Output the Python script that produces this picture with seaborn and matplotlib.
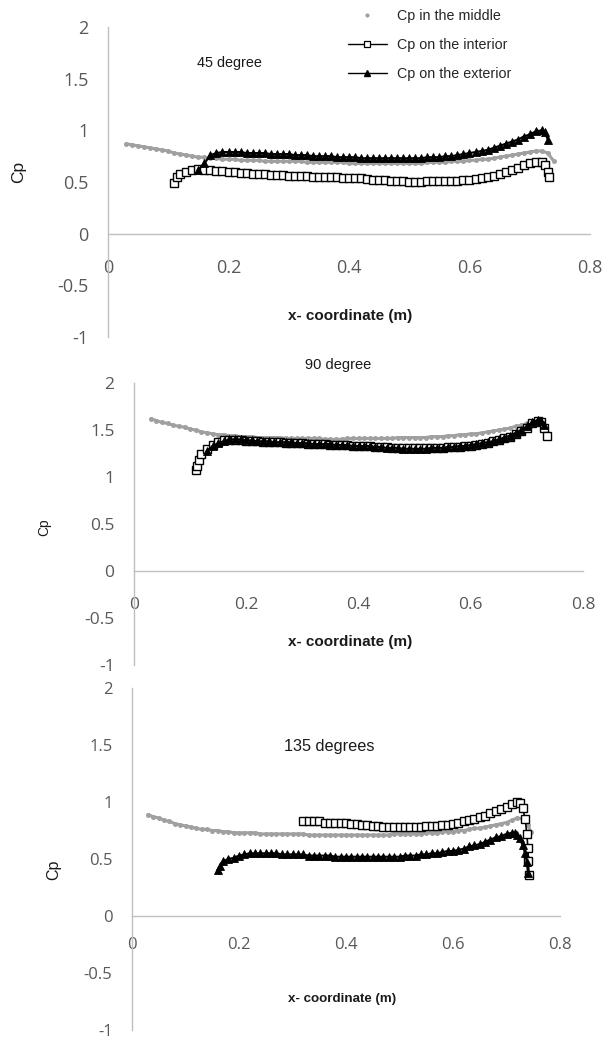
import numpy as np
import pandas as pd
import matplotlib
matplotlib.use("Agg")
import matplotlib.pyplot as plt
from matplotlib.lines import Line2D
import seaborn as sns

# ---------------- data ----------------
# Panel 1: 45 degree
p1_mid_x = [0.03,0.04,0.05,0.06,0.07,0.08,0.09,0.10,0.11,0.12,0.13,0.14,0.15,0.16,0.17,0.18,0.19,0.20,
            0.21,0.22,0.23,0.24,0.25,0.26,0.27,0.28,0.29,0.30,0.31,0.32,0.33,0.34,0.35,0.36,0.37,0.38,0.39,0.40,
            0.41,0.42,0.43,0.44,0.45,0.46,0.47,0.48,0.49,0.50,0.51,0.52,0.53,0.54,0.55,0.56,0.57,0.58,0.59,0.60,
            0.61,0.62,0.63,0.64,0.65,0.66,0.67,0.68,0.69,0.70,0.71,0.72,0.73,0.74]
p1_mid_y = [0.87,0.86,0.85,0.84,0.83,0.82,0.81,0.80,0.78,0.77,0.76,0.75,0.74,0.74,0.73,0.73,0.72,0.72,
            0.72,0.71,0.71,0.71,0.71,0.70,0.70,0.70,0.70,0.70,0.70,0.70,0.69,0.69,0.69,0.69,0.69,0.69,0.69,0.68,
            0.68,0.68,0.68,0.68,0.68,0.68,0.68,0.68,0.68,0.68,0.68,0.68,0.69,0.69,0.69,0.69,0.70,0.70,0.70,0.71,
            0.71,0.72,0.72,0.73,0.74,0.75,0.76,0.77,0.78,0.79,0.80,0.80,0.78,0.70]
p1_int_x = [0.110,0.115,0.12,0.13,0.14,0.15,0.16,0.17,0.18,0.19,0.20,0.21,0.22,0.23,0.24,0.25,0.26,0.27,0.28,0.29,0.30,
            0.31,0.32,0.33,0.34,0.35,0.36,0.37,0.38,0.39,0.40,0.41,0.42,0.43,0.44,0.45,0.46,0.47,0.48,0.49,0.50,
            0.51,0.52,0.53,0.54,0.55,0.56,0.57,0.58,0.59,0.60,0.61,0.62,0.63,0.64,0.65,0.66,0.67,0.68,0.69,0.70,
            0.71,0.72,0.725,0.73,0.732]
p1_int_y = [0.49,0.55,0.58,0.60,0.62,0.63,0.62,0.62,0.61,0.61,0.60,0.60,0.59,0.59,0.58,0.58,0.58,0.57,0.57,0.57,0.56,
            0.56,0.56,0.56,0.55,0.55,0.55,0.55,0.55,0.54,0.54,0.54,0.54,0.53,0.52,0.52,0.52,0.51,0.51,0.51,0.50,
            0.50,0.50,0.51,0.51,0.51,0.51,0.51,0.51,0.52,0.52,0.53,0.54,0.55,0.56,0.58,0.60,0.62,0.64,0.66,0.68,
            0.69,0.69,0.66,0.60,0.55]
p1_ext_x = [0.15,0.16,0.17,0.18,0.19,0.20,0.21,0.22,0.23,0.24,0.25,0.26,0.27,0.28,0.29,0.30,
            0.31,0.32,0.33,0.34,0.35,0.36,0.37,0.38,0.39,0.40,0.41,0.42,0.43,0.44,0.45,0.46,0.47,0.48,0.49,0.50,
            0.51,0.52,0.53,0.54,0.55,0.56,0.57,0.58,0.59,0.60,0.61,0.62,0.63,0.64,0.65,0.66,0.67,0.68,0.69,0.70,
            0.71,0.72,0.725,0.73]
p1_ext_y = [0.62,0.68,0.76,0.78,0.79,0.79,0.79,0.79,0.78,0.78,0.78,0.78,0.77,0.77,0.77,0.77,
            0.76,0.76,0.76,0.75,0.75,0.75,0.75,0.74,0.74,0.74,0.74,0.73,0.73,0.73,0.73,0.73,0.73,0.73,0.73,0.73,
            0.73,0.73,0.74,0.74,0.74,0.75,0.75,0.76,0.77,0.78,0.79,0.80,0.81,0.83,0.85,0.87,0.89,0.91,0.94,0.96,
            0.99,1.00,0.98,0.91]

# Panel 2: 90 degree
p2_mid_x = p1_mid_x
p2_mid_y = [1.62,1.60,1.58,1.57,1.55,1.54,1.53,1.51,1.50,1.48,1.47,1.46,1.45,1.45,1.44,1.44,1.43,1.43,
            1.43,1.42,1.42,1.42,1.42,1.42,1.41,1.41,1.41,1.41,1.41,1.41,1.41,1.40,1.40,1.40,1.40,1.41,1.41,1.41,
            1.41,1.41,1.41,1.41,1.41,1.41,1.42,1.42,1.42,1.42,1.42,1.42,1.43,1.43,1.43,1.44,1.44,1.45,1.45,1.46,
            1.46,1.47,1.48,1.49,1.50,1.51,1.52,1.54,1.55,1.57,1.59,1.60,1.55,1.45]
p2_int_x = [0.110,0.113,0.116,0.12,0.13,0.14,0.15,0.16,0.17,0.18,0.19,0.20,
            0.21,0.22,0.23,0.24,0.25,0.26,0.27,0.28,0.29,0.30,0.31,0.32,0.33,0.34,0.35,0.36,0.37,0.38,0.39,0.40,
            0.41,0.42,0.43,0.44,0.45,0.46,0.47,0.48,0.49,0.50,0.51,0.52,0.53,0.54,0.55,0.56,0.57,0.58,0.59,0.60,
            0.61,0.62,0.63,0.64,0.65,0.66,0.67,0.68,0.69,0.70,0.71,0.72,0.725,0.73,0.735]
p2_int_y = [1.07,1.12,1.18,1.24,1.30,1.34,1.37,1.39,1.39,1.39,1.39,1.38,
            1.38,1.38,1.37,1.37,1.37,1.37,1.36,1.36,1.36,1.36,1.35,1.35,1.35,1.35,1.34,1.34,1.34,1.34,1.33,1.33,
            1.33,1.33,1.32,1.32,1.32,1.31,1.31,1.31,1.31,1.31,1.31,1.31,1.31,1.31,1.31,1.32,1.32,1.32,1.33,1.33,
            1.34,1.35,1.36,1.38,1.39,1.41,1.43,1.46,1.49,1.52,1.57,1.60,1.58,1.52,1.44]
p2_ext_x = [0.13,0.14,0.15,0.16,0.17,0.18,0.19,0.20,
            0.21,0.22,0.23,0.24,0.25,0.26,0.27,0.28,0.29,0.30,0.31,0.32,0.33,0.34,0.35,0.36,0.37,0.38,0.39,0.40,
            0.41,0.42,0.43,0.44,0.45,0.46,0.47,0.48,0.49,0.50,0.51,0.52,0.53,0.54,0.55,0.56,0.57,0.58,0.59,0.60,
            0.61,0.62,0.63,0.64,0.65,0.66,0.67,0.68,0.69,0.70,0.71,0.72,0.725,0.73]
p2_ext_y = [1.28,1.33,1.36,1.38,1.40,1.40,1.40,1.39,
            1.39,1.38,1.38,1.38,1.37,1.37,1.37,1.37,1.36,1.36,1.36,1.35,1.35,1.35,1.35,1.34,1.34,1.34,1.33,1.33,
            1.33,1.33,1.32,1.32,1.31,1.31,1.31,1.30,1.30,1.30,1.30,1.30,1.31,1.31,1.31,1.32,1.32,1.33,1.33,1.34,
            1.35,1.36,1.37,1.38,1.40,1.42,1.44,1.47,1.50,1.54,1.58,1.61,1.60,1.55]

# Panel 3: 135 degrees
p3_mid_x = p1_mid_x + [0.745]
p3_mid_y = [0.89,0.87,0.86,0.84,0.83,0.81,0.80,0.79,0.78,0.77,0.76,0.76,0.75,0.75,0.74,0.74,0.73,0.73,
            0.73,0.73,0.73,0.72,0.72,0.72,0.72,0.72,0.72,0.72,0.72,0.72,0.71,0.71,0.71,0.71,0.71,0.71,0.71,0.71,
            0.71,0.71,0.71,0.71,0.71,0.71,0.71,0.71,0.72,0.72,0.72,0.72,0.72,0.72,0.73,0.73,0.73,0.74,0.74,0.74,
            0.75,0.75,0.76,0.77,0.77,0.78,0.79,0.80,0.81,0.82,0.84,0.86,0.85,0.80,0.74]
p3_int_x = [0.32,0.33,0.34,0.35,0.36,0.37,0.38,0.39,0.40,
            0.41,0.42,0.43,0.44,0.45,0.46,0.47,0.48,0.49,0.50,0.51,0.52,0.53,0.54,0.55,0.56,0.57,0.58,0.59,0.60,
            0.61,0.62,0.63,0.64,0.65,0.66,0.67,0.68,0.69,0.70,0.71,0.72,0.725,0.73,0.735,0.738,0.740,0.741,0.742]
p3_int_y = [0.83,0.83,0.83,0.83,0.82,0.82,0.82,0.82,0.82,
            0.81,0.81,0.80,0.80,0.79,0.79,0.78,0.78,0.78,0.78,0.78,0.78,0.78,0.78,0.79,0.79,0.79,0.80,0.80,0.81,
            0.82,0.83,0.84,0.85,0.87,0.88,0.90,0.92,0.94,0.96,0.98,1.00,0.99,0.95,0.85,0.72,0.60,0.48,0.36]
p3_ext_x = [0.16,0.165,0.17,0.18,0.19,0.20,
            0.21,0.22,0.23,0.24,0.25,0.26,0.27,0.28,0.29,0.30,0.31,0.32,0.33,0.34,0.35,0.36,0.37,0.38,0.39,0.40,
            0.41,0.42,0.43,0.44,0.45,0.46,0.47,0.48,0.49,0.50,0.51,0.52,0.53,0.54,0.55,0.56,0.57,0.58,0.59,0.60,
            0.61,0.62,0.63,0.64,0.65,0.66,0.67,0.68,0.69,0.70,0.71,0.715,0.72,0.725,0.73,0.735,0.738,0.74]
p3_ext_y = [0.40,0.44,0.48,0.50,0.51,0.53,
            0.54,0.55,0.55,0.55,0.55,0.55,0.55,0.54,0.54,0.54,0.54,0.54,0.53,0.53,0.53,0.53,0.53,0.52,0.52,0.52,
            0.52,0.52,0.52,0.52,0.52,0.52,0.52,0.52,0.52,0.52,0.53,0.53,0.53,0.54,0.54,0.55,0.55,0.56,0.57,0.57,
            0.58,0.59,0.61,0.62,0.63,0.65,0.67,0.69,0.70,0.72,0.73,0.73,0.71,0.68,0.62,0.55,0.47,0.38]

x_ticks = [0, 0.2, 0.4, 0.6, 0.8]
x_tick_labels = ["0", "0.2", "0.4", "0.6", "0.8"]
y_ticks = [-1, -0.5, 0, 0.5, 1, 1.5, 2]
y_tick_labels = ["-1", "-0.5", "0", "0.5", "1", "1.5", "2"]
series_labels = ["Cp in the middle", "Cp on the interior", "Cp on the exterior"]
titles = ["45 degree", "90 degree", "135 degrees"]
xlabel_text = "x- coordinate (m)"
ylabel_text = "Cp"

# ---------------- style ----------------
sns.set_theme(style="white")
plt.rcParams["font.family"] = ["Liberation Sans", "DejaVu Sans"]

W, H = 605, 1040
fig = plt.figure(figsize=(W / 100, H / 100), dpi=100)

def fx(px):
    return px / W

def fy(py):
    return 1 - py / H

# pixel boxes: left, right, top(y=2), bottom(y=-1)
boxes = [(108, 590, 27, 337), (134, 583, 383, 665), (132, 560, 688, 1030)]
panels = [
    (p1_mid_x, p1_mid_y, p1_int_x, p1_int_y, p1_ext_x, p1_ext_y),
    (p2_mid_x, p2_mid_y, p2_int_x, p2_int_y, p2_ext_x, p2_ext_y),
    (p3_mid_x, p3_mid_y, p3_int_x, p3_int_y, p3_ext_x, p3_ext_y),
]
tick_fs = [13, 12.5, 12]
xpad = [18, 19, 15]
title_pos = [(229, 63, 10.4), (338, 365, 10.5), (329, 746, 11.7)]
xlabel_pos = [(350, 316, 11), (350, 642, 11), (342, 999, 9.6)]
ylabel_pos = [(19, 172, 12.5), (44, 527, 10), (54, 870, 11.5)]

gray_line = "#bfbfbf"
tick_color = "#595959"
mid_color = "#a0a0a0"

for i, (box, data) in enumerate(zip(boxes, panels)):
    l, r, t, b = box
    ax = fig.add_axes([fx(l), fy(b), fx(r) - fx(l), fy(t) - fy(b)])
    mx, my, ix, iy, ex, ey = data
    df_m = pd.DataFrame({"x": mx, "y": my})
    df_i = pd.DataFrame({"x": ix, "y": iy})
    df_e = pd.DataFrame({"x": ex, "y": ey})

    sns.lineplot(data=df_m, x="x", y="y", ax=ax, sort=False, estimator=None,
                 color=mid_color, linewidth=2.2, marker="o", markersize=3.6,
                 markeredgewidth=0, legend=False, zorder=2)
    sns.lineplot(data=df_i, x="x", y="y", ax=ax, sort=False, estimator=None,
                 color="black", linewidth=1.2, marker="s", markersize=5.5,
                 markerfacecolor="white", markeredgecolor="black",
                 markeredgewidth=1.0, legend=False, zorder=3)
    sns.lineplot(data=df_e, x="x", y="y", ax=ax, sort=False, estimator=None,
                 color="black", linewidth=1.5, marker="^", markersize=6,
                 markerfacecolor="black", markeredgecolor="black",
                 markeredgewidth=0.6, legend=False, zorder=4)

    ax.set_xlim(0, 0.8)
    ax.set_ylim(-1, 2)
    ax.set_xticks(x_ticks)
    ax.set_xticklabels(x_tick_labels)
    ax.set_yticks(y_ticks)
    ax.set_yticklabels(y_tick_labels)
    ax.set_xlabel("")
    ax.set_ylabel("")
    for s in ["top", "right"]:
        ax.spines[s].set_visible(False)
    ax.spines["bottom"].set_position(("data", 0))
    for s in ["left", "bottom"]:
        ax.spines[s].set_color(gray_line)
        ax.spines[s].set_linewidth(1.0)
    ax.tick_params(axis="x", length=0, pad=xpad[i], labelsize=tick_fs[i],
                   labelcolor=tick_color)
    ax.tick_params(axis="y", length=0, pad=14, labelsize=tick_fs[i],
                   labelcolor=tick_color)
    for lab in ax.get_xticklabels() + ax.get_yticklabels():
        lab.set_fontfamily(["Open Sans", "DejaVu Sans"])
    ax.set_facecolor("white")
    ax.patch.set_alpha(0)

    tx, ty, tfs = title_pos[i]
    fig.text(fx(tx), fy(ty), titles[i], ha="center", va="center",
             fontsize=tfs, color="#1a1a1a")
    lx, ly, lfs = xlabel_pos[i]
    fig.text(fx(lx), fy(ly), xlabel_text, ha="center", va="center",
             fontsize=lfs, fontweight="bold", color="#1a1a1a")
    yx, yy, yfs = ylabel_pos[i]
    fig.text(fx(yx), fy(yy), ylabel_text, ha="center", va="center",
             fontsize=yfs, rotation=90, color="#1a1a1a")

    if i == 0:
        handles = [
            Line2D([], [], linestyle="none", marker="o", markersize=3,
                   color=mid_color, markeredgewidth=0),
            Line2D([], [], color="black", linewidth=1.0, marker="s",
                   markersize=5, markerfacecolor="white",
                   markeredgecolor="black", markeredgewidth=0.9),
            Line2D([], [], color="black", linewidth=1.0, marker="^",
                   markersize=4, markerfacecolor="black"),
        ]
        fig.legend(handles, series_labels, loc="upper left",
                   bbox_to_anchor=(fx(348), fy(9)), frameon=False,
                   fontsize=10.3, handlelength=2.7, handletextpad=0.75,
                   labelspacing=1.05, borderpad=0, borderaxespad=0)

fig.savefig("out.png", dpi=100, facecolor="white")
